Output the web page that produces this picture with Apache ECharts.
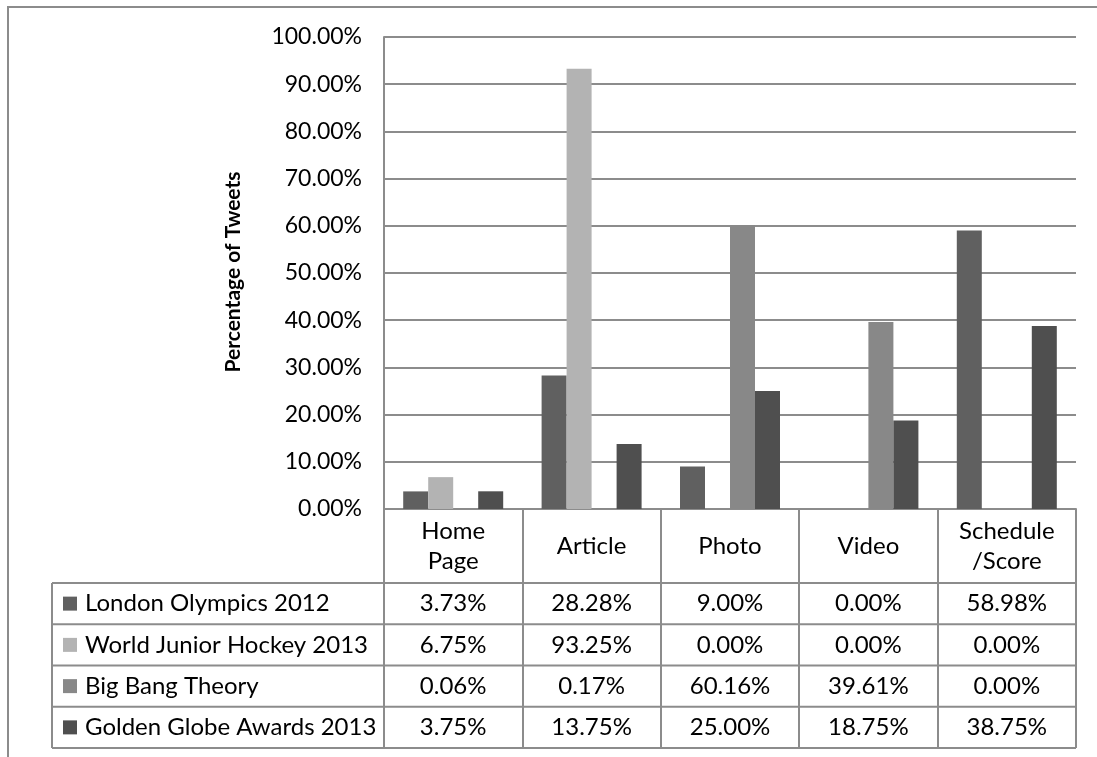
<!DOCTYPE html>
<html>
<head>
<meta charset="utf-8">
<script src="https://cdn.jsdelivr.net/npm/echarts@6/dist/echarts.min.js"></script>
<style>
  html, body { margin: 0; padding: 0; background: #fff; }
  #chart { width: 1097px; height: 757px; }
</style>
</head>
<body>
<div id="chart"></div>
<script>
// Link types shared in tweets, per event (percent of tweets)
const categories = ['Home\nPage', 'Article', 'Photo', 'Video', 'Schedule\n/Score'];
const seriesNames = ['London Olympics 2012', 'World Junior Hockey 2013', 'Big Bang Theory', 'Golden Globe Awards 2013'];
const londonOlympics = [3.73, 28.28, 9.00, 0.00, 58.98];
const worldJuniorHockey = [6.75, 93.25, 0.00, 0.00, 0.00];
const bigBangTheory = [0.06, 0.17, 60.16, 39.61, 0.00];
const goldenGlobe = [3.75, 13.75, 25.00, 18.75, 38.75];
const yMin = 0, yMax = 100, yStep = 10;
const yTitle = 'Percentage of Tweets';

const seriesData = [londonOlympics, worldJuniorHockey, bigBangTheory, goldenGlobe];
const colors = ['#606060', '#b3b3b3', '#888888', '#4f4f4f'];
const lineColor = '#8c8c8c';
const font = 'Lato, "Open Sans", sans-serif';
const fmt = v => v.toFixed(2) + '%';

const chart = echarts.init(document.getElementById('chart'), null, { renderer: 'canvas' });

chart.setOption({
  animation: false,
  backgroundColor: '#fff',
  grid: { left: 384, right: 21, top: 37, bottom: 248 },
  xAxis: {
    type: 'category',
    data: categories,
    axisLine: { show: true, lineStyle: { color: lineColor, width: 2 } },
    axisTick: { show: true, length: 239, lineStyle: { color: lineColor, width: 2 } },
    axisLabel: {
      color: '#000', fontFamily: font, fontSize: 24, lineHeight: 30,
      margin: 37, verticalAlign: 'middle', interval: 0
    },
    splitLine: { show: false }
  },
  yAxis: {
    type: 'value',
    min: yMin, max: yMax, interval: yStep,
    axisLine: { show: true, lineStyle: { color: lineColor, width: 2 } },
    axisTick: { show: false },
    axisLabel: { color: '#000', fontFamily: font, fontSize: 23, margin: 22, formatter: fmt },
    splitLine: { show: true, lineStyle: { color: lineColor, width: 2 } }
  },
  series: seriesNames.map((name, i) => ({
    name,
    type: 'bar',
    data: seriesData[i],
    barWidth: 25,
    barGap: '0%',
    itemStyle: { color: colors[i] }
  }))
});

// Data table beneath the plot, laid out from the category axis
const c0 = chart.convertToPixel({ xAxisIndex: 0 }, 0);
const c1 = chart.convertToPixel({ xAxisIndex: 0 }, 1);
const band = c1 - c0;
const tableLeft = 52;
const tableRight = c0 - band / 2 + band * categories.length;
const rowTop = 583;
const rowH = 41.25;

const graphics = [];
// outer chart frame
graphics.push({
  type: 'rect', z: -1, silent: true,
  shape: { x: 8, y: 7, width: 1400, height: 1000 },
  style: { fill: 'none', stroke: lineColor, lineWidth: 2 }
});
// y axis title
graphics.push({
  type: 'text', x: 233, y: 272, rotation: Math.PI / 2,
  style: { text: yTitle, font: 'bold 21px ' + font, fill: '#000', align: 'center', verticalAlign: 'middle' }
});
// horizontal rules of the table
for (let r = 0; r <= seriesNames.length; r++) {
  const y = rowTop + r * rowH;
  graphics.push({
    type: 'line', silent: true,
    shape: { x1: tableLeft, y1: y, x2: tableRight, y2: y },
    style: { stroke: lineColor, lineWidth: 2 }
  });
}
graphics.push({
  type: 'line', silent: true,
  shape: { x1: tableLeft, y1: rowTop, x2: tableLeft, y2: rowTop + seriesNames.length * rowH },
  style: { stroke: lineColor, lineWidth: 2 }
});
// legend keys, series names and values
seriesNames.forEach((name, r) => {
  const cy = rowTop + r * rowH + rowH / 2;
  graphics.push({
    type: 'rect', shape: { x: 63, y: cy - 7, width: 14, height: 14 },
    style: { fill: colors[r] }
  });
  graphics.push({
    type: 'text', x: 85, y: cy,
    style: { text: name, font: '24px ' + font, fill: '#000', align: 'left', verticalAlign: 'middle' }
  });
  seriesData[r].forEach((v, c) => {
    const cx = chart.convertToPixel({ xAxisIndex: 0 }, c);
    graphics.push({
      type: 'text', x: cx, y: cy,
      style: { text: fmt(v), font: '24px ' + font, fill: '#000', align: 'center', verticalAlign: 'middle' }
    });
  });
});

chart.setOption({ graphic: graphics });
</script>
</body>
</html>
